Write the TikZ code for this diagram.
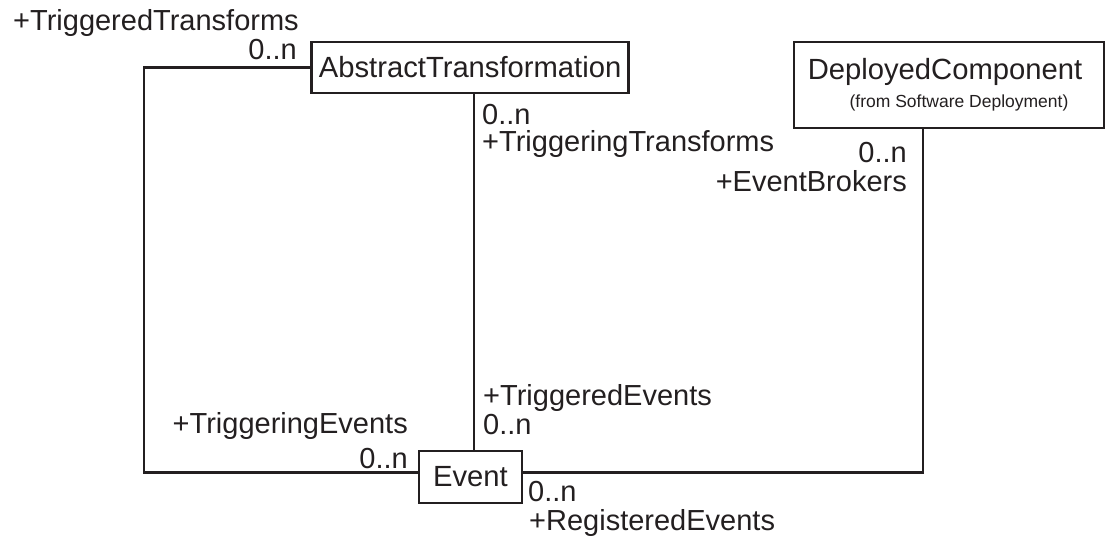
\documentclass[tikz,border=0pt]{standalone}
\usepackage{fontspec}
\setmainfont{Liberation Sans}
\definecolor{ink}{HTML}{231F20}
\begin{document}
\begin{tikzpicture}[x=1pt, y=-1pt,
  every node/.style={text=ink},
  classbox/.style={draw=ink, line width=2.5pt, fill=white, inner sep=0pt,
                   font=\fontsize{29.2}{34}\selectfont},
  role/.style={inner sep=0pt, font=\fontsize{29}{34}\selectfont},
  smallnote/.style={inner sep=0pt, font=\fontsize{17.5}{20}\selectfont},
  link/.style={draw=ink, line width=2.5pt}]
\useasboundingbox (0,0) rectangle (1108,537);

% classes
\node[classbox, minimum width=316.8pt, minimum height=51pt] (abs) at (470.1,67.5) {AbstractTransformation};
\node[classbox, minimum width=103pt, minimum height=52pt] (ev) at (470.5,477) {Event};
\node[classbox, minimum width=310pt, minimum height=86pt] (dep) at (949,85) {};
\node[classbox, draw=none, fill=none, anchor=base] (depname) at (945,80) {DeployedComponent};
\node[smallnote, anchor=base] (depfrom) at (959,108) {(from Software Deployment)};

% routing points
\coordinate (lx) at (144,0);
\coordinate (ly) at (0,472.7);
\coordinate (mx) at (474,0);
\coordinate (rx) at (923,0);

% associations
\draw[link] (abs.west) -- (abs.west -| lx) -- (lx |- ly) -- (ev.west |- ly);
\draw[link] (abs.south -| mx) -- (ev.north -| mx);
\draw[link] (dep.south -| rx) -- (rx |- ly) -- (ev.east |- ly);

% role names and multiplicities
\node[role, anchor=base west] (ttl) at (13,31) {+TriggeredTransforms};
\node[role, anchor=base east] (ttm) at (297,60) {0..n};
\node[role, anchor=base west] (tgm) at (482,125) {0..n};
\node[role, anchor=base west] (tgl) at (482,152) {+TriggeringTransforms};
\node[role, anchor=base east] (ebm) at (907,163) {0..n};
\node[role, anchor=base east] (ebl) at (907,192) {+EventBrokers};
\node[role, anchor=base west] (tel) at (483,405) {+TriggeredEvents};
\node[role, anchor=base west] (tem) at (483,434) {0..n};
\node[role, anchor=base east] (tgel) at (408,433) {+TriggeringEvents};
\node[role, anchor=base east] (tgem) at (408,468) {0..n};
\node[role, anchor=base west] (rem) at (528,501) {0..n};
\node[role, anchor=base west] (rel) at (529,530) {+RegisteredEvents};
\end{tikzpicture}
\end{document}
